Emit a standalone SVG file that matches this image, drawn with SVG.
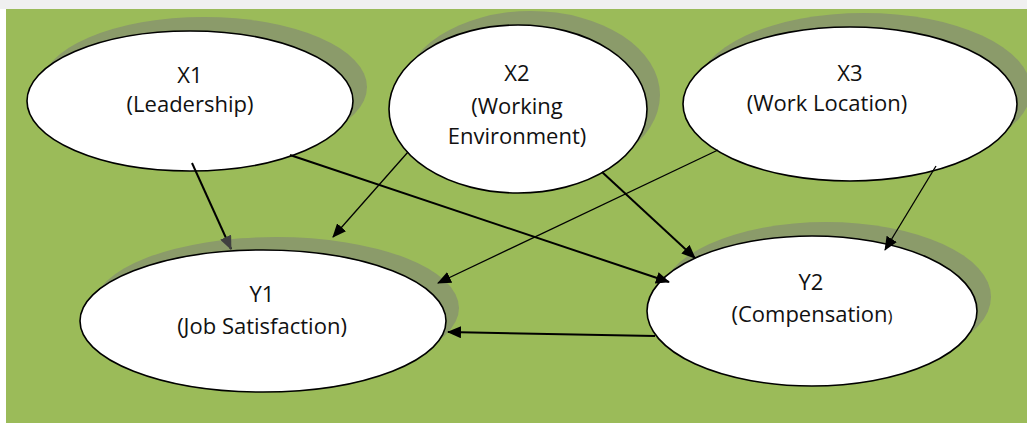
<svg xmlns="http://www.w3.org/2000/svg" width="1027" height="423" viewBox="0 0 1027 423">
  <style>
    .shadow { fill: #8b9b6a; }
    .node { fill: #ffffff; stroke: #000000; stroke-width: 1.6; }
    .label { font-family: "Open Sans", "Liberation Sans", sans-serif; font-size: 22px; fill: #111111; text-anchor: middle; }
    .edge { fill: none; stroke: #000000; }
    .thick { stroke-width: 2; }
    .thin { stroke-width: 1.3; }
  </style>
  <defs>
    <marker id="arrow" viewBox="0 0 14 12" refX="13" refY="6" markerWidth="14" markerHeight="12" markerUnits="userSpaceOnUse" orient="auto">
      <path d="M0,0 L14,6 L0,12 z" fill="#000000"/>
    </marker>
    <marker id="arrow-grey" viewBox="0 0 14 12" refX="13" refY="6" markerWidth="14" markerHeight="12" markerUnits="userSpaceOnUse" orient="auto">
      <path d="M0,0 L14,6 L0,12 z" fill="#404040"/>
    </marker>
  </defs>

  <!-- page strip and background panel -->
  <rect x="0" y="0" width="1027" height="423" fill="#ffffff"/>
  <rect x="0" y="0" width="1027" height="9" fill="#f0f0f0"/>
  <rect x="6" y="9" width="1021" height="414" fill="#9bbb59"/>

  <g id="node-x1">
    <ellipse class="shadow" cx="204" cy="87" rx="163" ry="70"/>
    <ellipse class="node" cx="190" cy="101" rx="163" ry="70"/>
    <text class="label" x="190" y="83">X1</text>
    <text class="label" x="190" y="112">(Leadership)</text>
  </g>

  <g id="node-x2">
    <ellipse class="shadow" cx="531" cy="95" rx="129" ry="84"/>
    <ellipse class="node" cx="518" cy="109" rx="129" ry="84"/>
    <text class="label" x="517" y="81">X2</text>
    <text class="label" x="517" y="114">(Working</text>
    <text class="label" x="517" y="144">Environment)</text>
  </g>

  <g id="node-x3">
    <ellipse class="shadow" cx="864" cy="90" rx="167" ry="77"/>
    <ellipse class="node" cx="850" cy="104" rx="167" ry="77"/>
    <text class="label" x="850" y="81">X3</text>
    <text class="label" x="827" y="111">(Work Location)</text>
  </g>

  <g id="node-y1">
    <ellipse class="shadow" cx="276" cy="308" rx="183" ry="71"/>
    <ellipse class="node" cx="263" cy="321" rx="183" ry="71"/>
    <text class="label" x="262" y="302">Y1</text>
    <text class="label" x="262" y="334">(Job Satisfaction)</text>
  </g>

  <g id="node-y2">
    <ellipse class="shadow" cx="826" cy="297" rx="165" ry="75"/>
    <ellipse class="node" cx="812" cy="311" rx="165" ry="75"/>
    <text class="label" x="811" y="290">Y2</text>
    <text class="label" x="812" y="322">(Compensation<tspan font-size="17px">)</tspan></text>
  </g>

  <g id="connectors">
    <line class="edge thick" x1="192" y1="163" x2="231" y2="249" marker-end="url(#arrow-grey)"/>
    <line class="edge thick" x1="290" y1="155" x2="669" y2="282" marker-end="url(#arrow)"/>
    <line class="edge thin" x1="408" y1="152" x2="333" y2="237" marker-end="url(#arrow)"/>
    <line class="edge thick" x1="602" y1="172" x2="695" y2="258" marker-end="url(#arrow)"/>
    <line class="edge thin" x1="718" y1="150" x2="438" y2="283" marker-end="url(#arrow)"/>
    <line class="edge thin" x1="936" y1="166" x2="885" y2="250" marker-end="url(#arrow)"/>
    <line class="edge thick" x1="655" y1="336" x2="448" y2="332" marker-end="url(#arrow)"/>
  </g>
</svg>
